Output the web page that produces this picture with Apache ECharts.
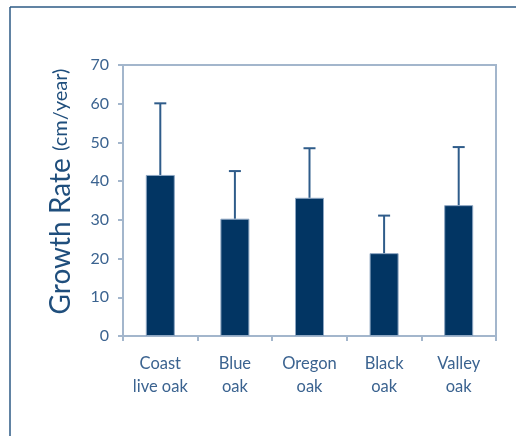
<!DOCTYPE html>
<html>
<head>
<meta charset="utf-8">
<script src="https://cdn.jsdelivr.net/npm/echarts@6/dist/echarts.min.js"></script>
<style>
  html, body { margin: 0; padding: 0; background: #fff; }
  #chart { width: 516px; height: 436px; }
</style>
</head>
<body>
<div id="chart"></div>
<script>
// Mean annual growth rate of five oak species, with upper error bars
const species = ['Coast\nlive oak', 'Blue\noak', 'Oregon\noak', 'Black\noak', 'Valley\noak'];
const growthMean = [41.6, 30.3, 35.7, 21.4, 33.8];
const growthUpper = [60.1, 42.6, 48.5, 31.1, 48.8];
const yTicks = [0, 10, 20, 30, 40, 50, 60, 70];

const FONT = 'Lato, "Open Sans", sans-serif';
const TEXT = '#3b6390';
const AXIS = '#a3b6cc';
const BAR = '#023563';
const ERR = '#2f5c8a';

const chart = echarts.init(document.getElementById('chart'), null, { renderer: 'canvas' });

chart.setOption({
  animation: false,
  backgroundColor: '#fff',
  grid: {
    left: 123, right: 20, top: 65, bottom: 100,
    show: true, borderColor: AXIS, borderWidth: 2, backgroundColor: 'transparent'
  },
  graphic: [
    // outer frame lines along the top and left
    { type: 'line', shape: { x1: 10, y1: 7, x2: 516, y2: 7 }, style: { stroke: '#2c5a85', lineWidth: 1.5 } },
    { type: 'line', shape: { x1: 10, y1: 7, x2: 10, y2: 436 }, style: { stroke: '#2c5a85', lineWidth: 1.5 } }
  ],
  xAxis: {
    type: 'category',
    data: species,
    axisLine: { lineStyle: { color: AXIS, width: 2 } },
    axisTick: { show: true, alignWithLabel: false, length: 5, lineStyle: { color: AXIS, width: 2 } },
    axisLabel: { color: TEXT, fontFamily: FONT, fontSize: 16.5, lineHeight: 23, margin: 16 }
  },
  yAxis: {
    type: 'value',
    min: 0, max: 70, interval: 10,
    splitLine: { show: false },
    axisLine: { show: true, lineStyle: { color: AXIS, width: 2 } },
    axisTick: { show: true, length: 5, lineStyle: { color: AXIS, width: 2 } },
    axisLabel: {
      color: TEXT, fontFamily: FONT, fontSize: 16, margin: 14,
      formatter: v => (yTicks.includes(v) ? String(v) : '')
    },
    name: '{a|Growth Rate }{b|(cm/year)}',
    nameLocation: 'middle',
    nameGap: 48,
    nameRotate: 90,
    nameTextStyle: {
      padding: [0, 0, 0, 18],
      rich: {
        a: { fontSize: 28, color: '#1f4e7c', fontFamily: FONT },
        b: { fontSize: 20, color: '#1f4e7c', fontFamily: FONT }
      }
    }
  },
  series: [
    {
      type: 'bar',
      data: growthMean,
      barWidth: 29,
      itemStyle: { color: BAR, borderColor: '#8da6c2', borderWidth: 1 },
      z: 2
    },
    {
      type: 'custom',
      data: growthMean.map((m, i) => [i, m, growthUpper[i]]),
      z: 3,
      renderItem: (params, api) => {
        const base = api.coord([api.value(0), api.value(1)]);
        const top = api.coord([api.value(0), api.value(2)]);
        const half = 6;
        return {
          type: 'group',
          children: [
            { type: 'line', shape: { x1: base[0], y1: base[1], x2: top[0], y2: top[1] },
              style: { stroke: ERR, lineWidth: 2 } },
            { type: 'line', shape: { x1: top[0] - half, y1: top[1], x2: top[0] + half, y2: top[1] },
              style: { stroke: ERR, lineWidth: 2 } }
          ]
        };
      }
    }
  ]
});
</script>
</body>
</html>
